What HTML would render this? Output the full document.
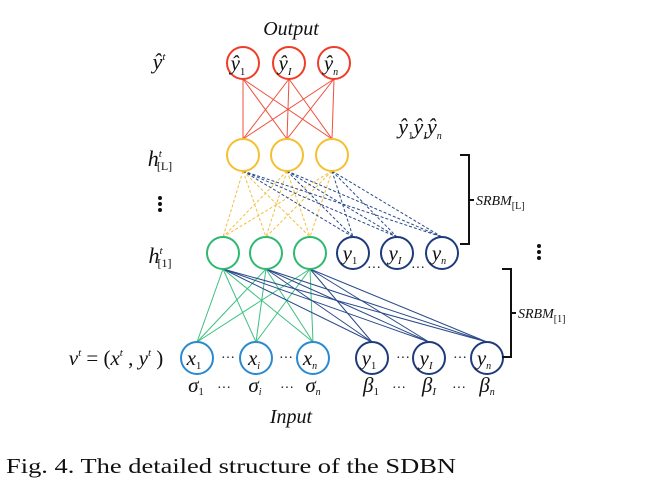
<!DOCTYPE html>
<html><head><style>body{margin:0;background:#fff}</style></head><body>
<svg width="656" height="496" xmlns="http://www.w3.org/2000/svg" font-family="Liberation Serif, serif">
<g stroke="#f0503c" stroke-width="1">
<line x1="243" y1="79" x2="243" y2="139"/><line x1="243" y1="79" x2="287" y2="139"/><line x1="243" y1="79" x2="332" y2="139"/>
<line x1="289" y1="79" x2="243" y2="139"/><line x1="289" y1="79" x2="287" y2="139"/><line x1="289" y1="79" x2="332" y2="139"/>
<line x1="334" y1="79" x2="243" y2="139"/><line x1="334" y1="79" x2="287" y2="139"/><line x1="334" y1="79" x2="332" y2="139"/>
</g>
<g stroke="#f0c040" stroke-width="1" stroke-dasharray="3,2">
<line x1="243" y1="171" x2="223" y2="237"/><line x1="243" y1="171" x2="266" y2="237"/><line x1="243" y1="171" x2="310" y2="237"/>
<line x1="287" y1="171" x2="223" y2="237"/><line x1="287" y1="171" x2="266" y2="237"/><line x1="287" y1="171" x2="310" y2="237"/>
<line x1="332" y1="171" x2="223" y2="237"/><line x1="332" y1="171" x2="266" y2="237"/><line x1="332" y1="171" x2="310" y2="237"/>
</g>
<g stroke="#2a4a8a" stroke-width="1" stroke-dasharray="3,2">
<line x1="243" y1="171" x2="353" y2="237"/><line x1="243" y1="171" x2="397" y2="237"/><line x1="243" y1="171" x2="442" y2="237"/>
<line x1="287" y1="171" x2="353" y2="237"/><line x1="287" y1="171" x2="397" y2="237"/><line x1="287" y1="171" x2="442" y2="237"/>
<line x1="332" y1="171" x2="353" y2="237"/><line x1="332" y1="171" x2="397" y2="237"/><line x1="332" y1="171" x2="442" y2="237"/>
</g>
<g stroke="#3cc080" stroke-width="1">
<line x1="223" y1="269" x2="197" y2="342"/><line x1="223" y1="269" x2="256" y2="342"/><line x1="223" y1="269" x2="313" y2="342"/>
<line x1="266" y1="269" x2="197" y2="342"/><line x1="266" y1="269" x2="256" y2="342"/><line x1="266" y1="269" x2="313" y2="342"/>
<line x1="310" y1="269" x2="197" y2="342"/><line x1="310" y1="269" x2="256" y2="342"/><line x1="310" y1="269" x2="313" y2="342"/>
</g>
<g stroke="#2a4a8a" stroke-width="1">
<line x1="223" y1="269" x2="372" y2="342"/><line x1="223" y1="269" x2="429" y2="342"/><line x1="223" y1="269" x2="487" y2="342"/>
<line x1="266" y1="269" x2="372" y2="342"/><line x1="266" y1="269" x2="429" y2="342"/><line x1="266" y1="269" x2="487" y2="342"/>
<line x1="310" y1="269" x2="372" y2="342"/><line x1="310" y1="269" x2="429" y2="342"/><line x1="310" y1="269" x2="487" y2="342"/>
</g>
<g fill="#fff" stroke-width="2">
<circle cx="243" cy="63" r="16" stroke="#f03c28"/><circle cx="289" cy="63" r="16" stroke="#f03c28"/><circle cx="334" cy="63" r="16" stroke="#f03c28"/>
<circle cx="243" cy="155" r="16" stroke="#f5c030"/><circle cx="287" cy="155" r="16" stroke="#f5c030"/><circle cx="332" cy="155" r="16" stroke="#f5c030"/>
<circle cx="223" cy="253" r="16" stroke="#30b870"/><circle cx="266" cy="253" r="16" stroke="#30b870"/><circle cx="310" cy="253" r="16" stroke="#30b870"/>
<circle cx="353" cy="253" r="16" stroke="#1e3c7c"/><circle cx="397" cy="253" r="16" stroke="#1e3c7c"/><circle cx="442" cy="253" r="16" stroke="#1e3c7c"/>
<circle cx="197" cy="358" r="16" stroke="#2a8ad0"/><circle cx="256" cy="358" r="16" stroke="#2a8ad0"/><circle cx="313" cy="358" r="16" stroke="#2a8ad0"/>
<circle cx="372" cy="358" r="16" stroke="#1e3c7c"/><circle cx="429" cy="358" r="16" stroke="#1e3c7c"/><circle cx="487" cy="358" r="16" stroke="#1e3c7c"/>
</g>
<g font-style="italic" font-size="21" fill="#111" text-anchor="middle">
<text x="291" y="35" font-size="20">Output</text>
<text x="238" y="70">ŷ<tspan font-size="11" dy="5" font-style="normal">1</tspan></text>
<text x="285" y="70">ŷ<tspan font-size="11" dy="5">I</tspan></text>
<text x="331" y="70">ŷ<tspan font-size="10" dy="5">n</tspan></text>
<text x="159" y="69" font-size="22">ŷ<tspan font-size="11" dy="-9">t</tspan></text>
<text x="160" y="166" font-size="22">h<tspan font-size="11" dy="-9">t</tspan><tspan font-size="12" dx="-5" dy="13" font-style="normal">[L]</tspan></text>
<text x="160" y="263" font-size="22">h<tspan font-size="11" dy="-9">t</tspan><tspan font-size="12" dx="-5" dy="13" font-style="normal">[1]</tspan></text>
<text x="420" y="134" font-size="22">ŷ<tspan font-size="11" dy="5" font-style="normal">1</tspan><tspan dy="-5">ŷ</tspan><tspan font-size="11" dy="5">I</tspan><tspan dy="-5">ŷ</tspan><tspan font-size="10" dy="5">n</tspan></text>
<text x="350" y="260">y<tspan font-size="11" dy="4" font-style="normal">1</tspan></text>
<text x="395" y="260">y<tspan font-size="11" dy="4">I</tspan></text>
<text x="439" y="260">y<tspan font-size="10" dy="4">n</tspan></text>
<text x="194" y="365">x<tspan font-size="11" dy="4" font-style="normal">1</tspan></text>
<text x="254" y="365">x<tspan font-size="10" dy="4">i</tspan></text>
<text x="310" y="365">x<tspan font-size="10" dy="4">n</tspan></text>
<text x="369" y="365">y<tspan font-size="11" dy="4" font-style="normal">1</tspan></text>
<text x="426" y="365">y<tspan font-size="11" dy="4">I</tspan></text>
<text x="484" y="365">y<tspan font-size="10" dy="4">n</tspan></text>
<text x="116" y="365">v<tspan font-size="11" dy="-9">t</tspan><tspan dy="9" font-style="normal"> = (</tspan>x<tspan font-size="11" dy="-9">t</tspan><tspan dy="9" font-style="normal"> , </tspan>y<tspan font-size="11" dy="-9">t</tspan><tspan dy="9" font-style="normal"> )</tspan></text>
<text x="196" y="392">σ<tspan font-size="11" dy="3" font-style="normal">1</tspan></text>
<text x="255" y="392">σ<tspan font-size="10" dy="3">i</tspan></text>
<text x="313" y="392">σ<tspan font-size="10" dy="3">n</tspan></text>
<text x="371" y="392">β<tspan font-size="11" dy="3" font-style="normal">1</tspan></text>
<text x="429" y="392">β<tspan font-size="11" dy="3">I</tspan></text>
<text x="487" y="392">β<tspan font-size="10" dy="3">n</tspan></text>
<text x="291" y="423" font-size="20">Input</text>
</g>
<g font-size="14" fill="#111">
<text x="221" y="362">···</text><text x="279" y="362">···</text><text x="396" y="362">···</text><text x="453" y="362">···</text>
<text x="217" y="392">···</text><text x="280" y="392">···</text><text x="392" y="392">···</text><text x="452" y="392">···</text>
<text x="367" y="272">···</text><text x="411" y="272">···</text>
</g>
<g fill="#111"><circle cx="160" cy="198" r="2"/><circle cx="160" cy="204" r="2"/><circle cx="160" cy="210" r="2"/>
<circle cx="539" cy="246" r="2"/><circle cx="539" cy="252" r="2"/><circle cx="539" cy="258" r="2"/></g>
<g stroke="#111" stroke-width="2" fill="none">
<path d="M460 155 H469 V244 H460 M469 200 H474"/>
<path d="M502 269 H511 V357 H502 M511 313 H516"/>
</g>
<g font-style="italic" font-size="14" fill="#111">
<text x="476" y="205">SRBM<tspan font-size="10" dy="4" font-style="normal">[L]</tspan></text>
<text x="518" y="318">SRBM<tspan font-size="10" dy="4" font-style="normal">[1]</tspan></text>
</g>
<text x="6" y="473" font-size="21" fill="#111" textLength="450" lengthAdjust="spacingAndGlyphs">Fig. 4. The detailed structure of the SDBN</text>
</svg>
</body></html>
